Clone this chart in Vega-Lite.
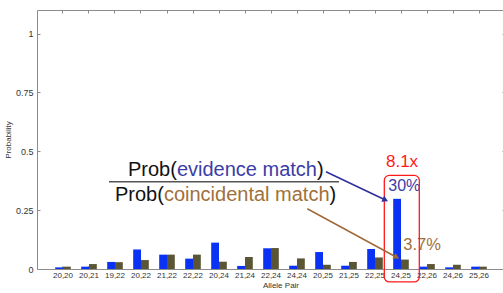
{
  "$schema": "https://vega.github.io/schema/vega-lite/v6.json",
  "width": 468,
  "height": 259,
  "autosize": "none",
  "padding": {"left": 37, "top": 10, "right": 0, "bottom": 24},
  "config": {
    "view": {"stroke": "#8c8c8c", "strokeWidth": 1},
    "font": "Liberation Sans",
    "axis": {"domain": false, "grid": false, "labelFont": "Liberation Sans", "labelFontSize": 8, "labelColor": "#333333", "tickColor": "#8c8c8c", "titleFont": "Liberation Sans", "titleFontSize": 8, "titleFontWeight": "normal", "titleColor": "#333333"}
  },
  "datasets": {
    "bars": [
      {"pair": "20,20", "source": "evidence", "p": 0.007}, {"pair": "20,20", "source": "coincidental", "p": 0.010},
      {"pair": "20,21", "source": "evidence", "p": 0.010}, {"pair": "20,21", "source": "coincidental", "p": 0.021},
      {"pair": "19,22", "source": "evidence", "p": 0.030}, {"pair": "19,22", "source": "coincidental", "p": 0.029},
      {"pair": "20,22", "source": "evidence", "p": 0.083}, {"pair": "20,22", "source": "coincidental", "p": 0.038},
      {"pair": "21,22", "source": "evidence", "p": 0.061}, {"pair": "21,22", "source": "coincidental", "p": 0.061},
      {"pair": "22,22", "source": "evidence", "p": 0.044}, {"pair": "22,22", "source": "coincidental", "p": 0.061},
      {"pair": "20,24", "source": "evidence", "p": 0.112}, {"pair": "20,24", "source": "coincidental", "p": 0.031},
      {"pair": "21,24", "source": "evidence", "p": 0.013}, {"pair": "21,24", "source": "coincidental", "p": 0.051},
      {"pair": "22,24", "source": "evidence", "p": 0.088}, {"pair": "22,24", "source": "coincidental", "p": 0.089},
      {"pair": "24,24", "source": "evidence", "p": 0.014}, {"pair": "24,24", "source": "coincidental", "p": 0.045},
      {"pair": "20,25", "source": "evidence", "p": 0.072}, {"pair": "20,25", "source": "coincidental", "p": 0.018},
      {"pair": "21,25", "source": "evidence", "p": 0.014}, {"pair": "21,25", "source": "coincidental", "p": 0.030},
      {"pair": "22,25", "source": "evidence", "p": 0.085}, {"pair": "22,25", "source": "coincidental", "p": 0.049},
      {"pair": "24,25", "source": "evidence", "p": 0.298}, {"pair": "24,25", "source": "coincidental", "p": 0.040},
      {"pair": "22,26", "source": "evidence", "p": 0.010}, {"pair": "22,26", "source": "coincidental", "p": 0.021},
      {"pair": "24,26", "source": "evidence", "p": 0.007}, {"pair": "24,26", "source": "coincidental", "p": 0.018},
      {"pair": "25,26", "source": "evidence", "p": 0.010}, {"pair": "25,26", "source": "coincidental", "p": 0.010}
    ],
    "ticksRight": [{"v": 0.25}, {"v": 0.5}, {"v": 0.75}, {"v": 1}]
  },
  "layer": [
    {
      "data": {"name": "bars"},
      "mark": {"type": "bar"},
      "encoding": {
        "x": {"field": "pair", "type": "nominal", "sort": null,
              "scale": {"type": "band", "paddingInner": 0.4, "paddingOuter": 0.7},
              "axis": {"title": "Allele Pair", "labelAngle": 0, "labelOverlap": false, "tickSize": -3, "labelPadding": 5, "titlePadding": 2, "titleX": 243.5}},
        "xOffset": {"field": "source", "type": "nominal", "sort": ["evidence", "coincidental"], "scale": {"paddingInner": 0, "paddingOuter": 0}},
        "y": {"field": "p", "type": "quantitative", "scale": {"domain": [0, 1.1], "nice": false},
              "axis": {"title": "Probability", "values": [0, 0.25, 0.5, 0.75, 1], "format": ".2~f", "tickSize": -3, "labelPadding": 7, "labelFontSize": 9, "titleX": -25, "titleY": 129.5}},
        "color": {"field": "source", "type": "nominal", "scale": {"domain": ["evidence", "coincidental"], "range": ["#0a32f5", "#5a5535"]}, "legend": null}
      }
    },
    {
      "data": {"name": "bars"},
      "mark": {"type": "point", "opacity": 0},
      "encoding": {
        "x": {"field": "pair", "type": "nominal", "sort": null,
              "scale": {"type": "band", "paddingInner": 0.4, "paddingOuter": 0.7},
              "axis": {"orient": "top", "title": null, "labels": false, "tickSize": -3}}
      }
    },
    {
      "data": {"name": "ticksRight"},
      "mark": {"type": "point", "opacity": 0},
      "encoding": {
        "y": {"field": "v", "type": "quantitative", "scale": {"domain": [0, 1.1], "nice": false},
              "axis": {"orient": "right", "title": null, "labels": false, "values": [0, 0.25, 0.5, 0.75, 1], "tickSize": -3}}
      }
    },
    {
      "data": {"values": [{"x": 2.769, "x2": 11.615, "y": 0.371}]},
      "mark": {"type": "rule", "color": "#555555", "strokeWidth": 1.5},
      "encoding": {
        "x": {"field": "x", "type": "quantitative", "scale": {"domain": [0, 18], "nice": false, "zero": false}, "axis": null},
        "x2": {"field": "x2"},
        "y": {"field": "y", "type": "quantitative", "scale": {"domain": [0, 1.1], "nice": false}, "axis": null}
      }
    },
    {
      "data": {"values": [{"t": "Prob(", "x": 3.5, "y": 0.396}, {"t": ")", "x": 10.768, "y": 0.396}, {"t": "Prob(", "x": 3.0, "y": 0.290}, {"t": ")", "x": 11.25, "y": 0.290}]},
      "mark": {"type": "text", "align": "left", "baseline": "alphabetic", "fontSize": 20, "font": "Liberation Sans", "color": "#111111"},
      "encoding": {
        "x": {"field": "x", "type": "quantitative", "scale": {"domain": [0, 18], "nice": false, "zero": false}, "axis": null},
        "y": {"field": "y", "type": "quantitative", "scale": {"domain": [0, 1.1], "nice": false}, "axis": null},
        "text": {"field": "t"}
      }
    },
    {
      "data": {"values": [{"t": "evidence match", "x": 5.381, "y": 0.396}, {"t": "30%", "x": 13.51, "y": 0.3326}]},
      "mark": {"type": "text", "align": "left", "baseline": "alphabetic", "fontSize": 20, "font": "Liberation Sans", "color": "#3c3ca6"},
      "encoding": {
        "x": {"field": "x", "type": "quantitative", "scale": {"domain": [0, 18], "nice": false, "zero": false}, "axis": null},
        "y": {"field": "y", "type": "quantitative", "scale": {"domain": [0, 1.1], "nice": false}, "axis": null},
        "text": {"field": "t"},
        "size": {"field": "t", "type": "nominal", "scale": {"domain": ["evidence match", "30%"], "range": [20, 16]}, "legend": null}
      }
    },
    {
      "data": {"values": [{"t": "coincidental match", "x": 4.881, "y": 0.290}, {"t": "3.7%", "x": 14.09, "y": 0.079}]},
      "mark": {"type": "text", "align": "left", "baseline": "alphabetic", "font": "Liberation Sans", "color": "#a0703c"},
      "encoding": {
        "x": {"field": "x", "type": "quantitative", "scale": {"domain": [0, 18], "nice": false, "zero": false}, "axis": null},
        "y": {"field": "y", "type": "quantitative", "scale": {"domain": [0, 1.1], "nice": false}, "axis": null},
        "text": {"field": "t"},
        "size": {"field": "t", "type": "nominal", "scale": {"domain": ["coincidental match", "3.7%"], "range": [20, 16.5]}, "legend": null}
      }
    },
    {
      "data": {"values": [{"t": "8.1x", "x": 14.04, "y": 0.4345}]},
      "mark": {"type": "text", "align": "center", "baseline": "alphabetic", "fontSize": 17, "font": "Liberation Sans", "color": "#ff1a1a"},
      "encoding": {
        "x": {"field": "x", "type": "quantitative", "scale": {"domain": [0, 18], "nice": false, "zero": false}, "axis": null},
        "y": {"field": "y", "type": "quantitative", "scale": {"domain": [0, 1.1], "nice": false}, "axis": null},
        "text": {"field": "t"}
      }
    },
    {
      "data": {"values": [{"x": 13.358, "x2": 14.704, "y": -0.055, "y2": 0.3975}]},
      "mark": {"type": "rect", "fill": null, "filled": false, "stroke": "#ff1a1a", "strokeWidth": 1.3, "cornerRadius": 5},
      "encoding": {
        "x": {"field": "x", "type": "quantitative", "scale": {"domain": [0, 18], "nice": false, "zero": false}, "axis": null},
        "x2": {"field": "x2"},
        "y": {"field": "y", "type": "quantitative", "scale": {"domain": [0, 1.1], "nice": false}, "axis": null},
        "y2": {"field": "y2"}
      }
    },
    {
      "data": {"values": [{"x": 11.115, "y": 0.413, "x2": 13.40, "y2": 0.293}]},
      "mark": {"type": "rule", "color": "#2e2e9c", "strokeWidth": 1.5},
      "encoding": {
        "x": {"field": "x", "type": "quantitative", "scale": {"domain": [0, 18], "nice": false, "zero": false}, "axis": null},
        "x2": {"field": "x2"},
        "y": {"field": "y", "type": "quantitative", "scale": {"domain": [0, 1.1], "nice": false}, "axis": null},
        "y2": {"field": "y2"}
      }
    },
    {
      "data": {"values": [{"x": 10.396, "y": 0.256, "x2": 13.83, "y2": 0.050}]},
      "mark": {"type": "rule", "color": "#a06a38", "strokeWidth": 1.5},
      "encoding": {
        "x": {"field": "x", "type": "quantitative", "scale": {"domain": [0, 18], "nice": false, "zero": false}, "axis": null},
        "x2": {"field": "x2"},
        "y": {"field": "y", "type": "quantitative", "scale": {"domain": [0, 1.1], "nice": false}, "axis": null},
        "y2": {"field": "y2"}
      }
    },
    {
      "data": {"values": [{"x": 13.40, "y": 0.293}]},
      "mark": {"type": "point", "shape": "triangle-right", "filled": true, "size": 45, "angle": 25, "color": "#2e2e9c", "opacity": 1},
      "encoding": {
        "x": {"field": "x", "type": "quantitative", "scale": {"domain": [0, 18], "nice": false, "zero": false}, "axis": null},
        "y": {"field": "y", "type": "quantitative", "scale": {"domain": [0, 1.1], "nice": false}, "axis": null}
      }
    },
    {
      "data": {"values": [{"x": 13.83, "y": 0.050}]},
      "mark": {"type": "point", "shape": "triangle-right", "filled": true, "size": 45, "angle": 28, "color": "#a06a38", "opacity": 1},
      "encoding": {
        "x": {"field": "x", "type": "quantitative", "scale": {"domain": [0, 18], "nice": false, "zero": false}, "axis": null},
        "y": {"field": "y", "type": "quantitative", "scale": {"domain": [0, 1.1], "nice": false}, "axis": null}
      }
    }
  ],
  "resolve": {"scale": {"x": "independent", "y": "independent", "size": "independent", "color": "independent"}}
}
